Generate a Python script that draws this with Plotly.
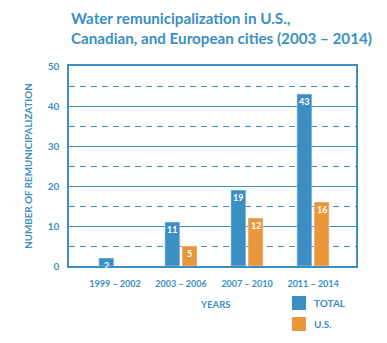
import plotly.graph_objects as go

# Remunicipalization counts per period
periods = ["1999 – 2002", "2003 – 2006", "2007 – 2010", "2011 – 2014"]
total = [2, 11, 19, 43]
us = [None, 5, 12, 16]
series_names = ["TOTAL", "U.S."]

BLUE = "#3b8fc3"
ORANGE = "#ea973b"
FONT = "Lato"

# plot-area geometry in pixels, used for paper-coordinate placement
W, H = 387, 343
L, R, T, B = 69, 31, 66, 77
PW, PH = W - L - R, H - T - B


def px_x(px):
    return (px - L) / PW


def px_y(py):
    return (H - B - py) / PH


xpos = list(range(len(periods)))
bar_w = 0.227

fig = go.Figure()
fig.add_trace(go.Bar(x=xpos, y=total, name=series_names[0], marker_color=BLUE,
                     width=bar_w, offset=-0.245))
fig.add_trace(go.Bar(x=xpos, y=us, name=series_names[1], marker_color=ORANGE,
                     width=bar_w, offset=0.015))

label_font = dict(family=FONT, size=9, color="white", weight="bold")
annotations = []
for i, v in enumerate(total):
    annotations.append(dict(x=i - 0.245 + bar_w / 2, y=v, text=str(v), showarrow=False,
                            yshift=-7, font=label_font))
for i, v in enumerate(us):
    if v is None:
        continue
    annotations.append(dict(x=i + 0.015 + bar_w / 2, y=v, text=str(v), showarrow=False,
                            yshift=-7, font=label_font))

# title
annotations.append(dict(xref="paper", yref="paper", x=0, y=px_y(7), xanchor="left", yanchor="top",
                        align="left", showarrow=False,
                        text="Water remunicipalization in U.S.,<br>Canadian, and European cities (2003 – 2014)",
                        font=dict(family=FONT, size=15.2, color=BLUE, weight="bold")))

# x-axis title
annotations.append(dict(xref="paper", yref="paper", x=px_x(215), y=px_y(304), text="YEARS",
                        showarrow=False, xanchor="center", yanchor="middle",
                        font=dict(family=FONT, size=9.5, color=BLUE, weight="bold")))

# legend: colour swatches and labels
shapes = []
for (name, col, top) in [(series_names[0], BLUE, 296), (series_names[1], ORANGE, 317)]:
    shapes.append(dict(type="rect", xref="paper", yref="paper",
                       x0=px_x(292), x1=px_x(306), y0=px_y(top + 14), y1=px_y(top),
                       fillcolor=col, line=dict(width=0)))
    annotations.append(dict(xref="paper", yref="paper", x=px_x(312), y=px_y(top + 7),
                            xanchor="left", yanchor="middle", text=name, showarrow=False,
                            font=dict(family=FONT, size=10, color=BLUE, weight="bold")))

fig.update_layout(
    width=W, height=H,
    margin=dict(l=L, r=R, t=T, b=B),
    paper_bgcolor="white", plot_bgcolor="white",
    barmode="overlay",
    showlegend=False,
    annotations=annotations,
    shapes=shapes,
    xaxis=dict(range=[-0.697, 3.65], tickvals=xpos, ticktext=periods,
               showgrid=False, zeroline=False, showline=True, mirror=True,
               linecolor=BLUE, linewidth=1.5, ticks="", ticklabelstandoff=8,
               tickfont=dict(family=FONT, size=9, color=BLUE, weight="bold")),
    yaxis=dict(range=[0, 50], dtick=10, showgrid=True, gridcolor=BLUE, gridwidth=1.2,
               zeroline=False, showline=True, mirror=True, linecolor=BLUE, linewidth=1.5,
               ticks="", ticklabelstandoff=6,
               tickfont=dict(family=FONT, size=10, color=BLUE, weight="bold"),
               title=dict(text="NUMBER OF REMUNICIPALIZATION", standoff=13,
                          font=dict(family=FONT, size=9.8, color=BLUE, weight="bold")),
               minor=dict(dtick=5, showgrid=True, gridcolor=BLUE, gridwidth=1.2,
                          griddash="6px,5px")),
)

fig.write_html("out.html")
